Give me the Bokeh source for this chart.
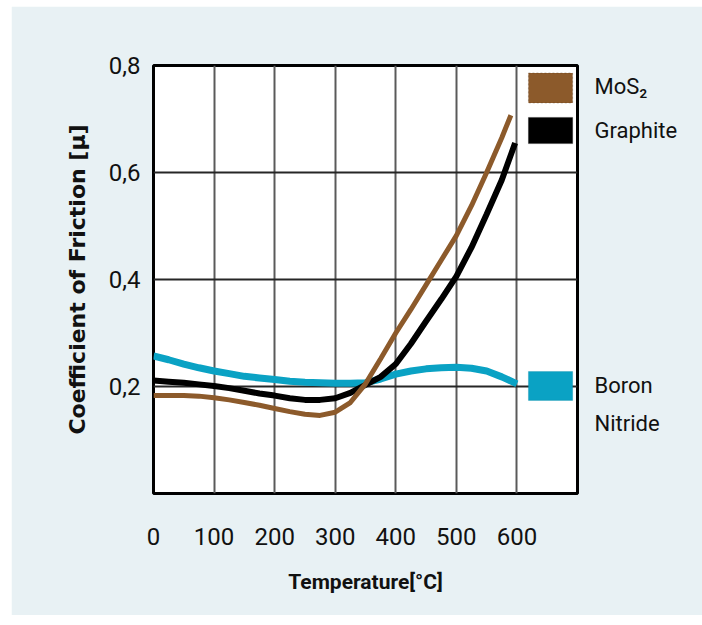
from bokeh.plotting import figure
from bokeh.models import Range1d, FixedTicker, LinearAxis, BoxAnnotation
from bokeh.embed import file_html
from bokeh.resources import INLINE

# ---- data ----
bn_temp = [0, 25, 50, 75, 100, 125, 150, 175, 200, 225, 250, 275, 300, 325, 350,
           375, 400, 425, 450, 475, 500, 525, 550, 575, 600]
bn_cof = [0.257, 0.250, 0.242, 0.235, 0.229, 0.224, 0.219, 0.216, 0.213, 0.210, 0.208,
          0.207, 0.206, 0.206, 0.207, 0.214, 0.223, 0.229, 0.233, 0.235, 0.236, 0.234,
          0.229, 0.218, 0.205]

gr_temp = [0, 25, 50, 75, 100, 125, 150, 175, 200, 225, 250, 275, 300, 325, 350,
           375, 400, 425, 450, 475, 500, 525, 550, 575, 597]
gr_cof = [0.211, 0.209, 0.207, 0.204, 0.201, 0.197, 0.192, 0.187, 0.183, 0.178, 0.175,
          0.175, 0.178, 0.188, 0.203, 0.218, 0.242, 0.280, 0.322, 0.363, 0.406, 0.460,
          0.522, 0.586, 0.655]

mo_temp = [0, 25, 50, 75, 100, 125, 150, 175, 200, 225, 250, 275, 300, 325, 350,
           375, 400, 425, 450, 475, 500, 525, 550, 575, 590]
mo_cof = [0.183, 0.183, 0.183, 0.182, 0.179, 0.175, 0.170, 0.165, 0.159, 0.153, 0.148,
          0.146, 0.152, 0.170, 0.205, 0.252, 0.300, 0.344, 0.390, 0.436, 0.482, 0.538,
          0.600, 0.665, 0.707]

x_ticks = [0, 100, 200, 300, 400, 500, 600]
x_grid = [100, 200, 300, 400, 500, 600]
y_ticks = [0.2, 0.4, 0.6, 0.8]
y_grid = [0.2, 0.4, 0.6]
y_tick_labels = ["0,2", "0,4", "0,6", "0,8"]

# legend texts (shown on a right-hand axis) and their vertical anchors
legend_labels = ["MoS\u2082", "Graphite", "Boron", "Nitride"]
legend_label_y = [0.760, 0.678, 0.202, 0.131]

BROWN = "#8c5a2b"
BLACK = "#000000"
BLUE = "#0aa2c4"
PANEL = "#e8f1f4"
FONT = "Roboto"
TXT = "#111111"

p = figure(frame_width=424, frame_height=428, output_backend="svg",
           toolbar_location=None, x_range=Range1d(0, 700), y_range=Range1d(0, 0.8),
           min_border_left=142, min_border_right=125, min_border_top=59,
           min_border_bottom=122)
p.margin = (6, 0, 0, 11)

p.background_fill_color = "white"
p.border_fill_color = PANEL
p.outline_line_color = "black"
p.outline_line_width = 3

# axes
p.xaxis.ticker = FixedTicker(ticks=x_ticks)
p.yaxis.ticker = FixedTicker(ticks=y_ticks)
p.yaxis.major_label_overrides = {t: s for t, s in zip(y_ticks, y_tick_labels)}
for ax in (p.xaxis[0], p.yaxis[0]):
    ax.axis_line_color = None
    ax.major_tick_line_color = None
    ax.minor_tick_line_color = None
    ax.major_label_text_font = FONT
    ax.major_label_text_font_size = "24px"
    ax.major_label_text_color = TXT
p.xaxis.major_label_standoff = 28
p.yaxis.major_label_standoff = 7

p.xaxis.axis_label = "Temperature[\u00b0C]"
p.xaxis.axis_label_text_font = FONT
p.xaxis.axis_label_text_font_style = "bold"
p.xaxis.axis_label_text_font_size = "21px"
p.xaxis.axis_label_text_color = TXT
p.xaxis.axis_label_standoff = 22

p.yaxis.axis_label = "Coefficient of Friction [\u00b5]"
p.yaxis.axis_label_text_font = "DejaVu Sans"
p.yaxis.axis_label_text_font_style = "bold"
p.yaxis.axis_label_text_font_size = "22px"
p.yaxis.axis_label_text_color = TXT
p.yaxis.axis_label_standoff = 16

# grid
p.xgrid.ticker = FixedTicker(ticks=x_grid)
p.ygrid.ticker = FixedTicker(ticks=y_grid)
p.xgrid.grid_line_color = "#5a5a5a"
p.xgrid.grid_line_width = 2
p.ygrid.grid_line_color = "#262626"
p.ygrid.grid_line_width = 2

# curves
p.line(bn_temp, bn_cof, line_color=BLUE, line_width=7)
p.line(gr_temp, gr_cof, line_color=BLACK, line_width=6)
p.line(mo_temp, mo_cof, line_color=BROWN, line_width=5)

# legend swatches
p.add_layout(BoxAnnotation(left=619, right=692, top=0.786, bottom=0.730,
                           fill_color=BROWN, fill_alpha=1, line_color="#4a2e12",
                           line_dash="2 2", line_width=1, level="annotation"))
p.add_layout(BoxAnnotation(left=619, right=692, top=0.703, bottom=0.654,
                           fill_color=BLACK, fill_alpha=1, line_color=BLACK,
                           line_width=1, level="annotation"))
p.add_layout(BoxAnnotation(left=619, right=692, top=0.228, bottom=0.174,
                           fill_color=BLUE, fill_alpha=1, line_color="#0889a6",
                           line_width=1, level="annotation"))

# legend texts on a right axis
leg_axis = LinearAxis(ticker=FixedTicker(ticks=legend_label_y),
                      major_label_overrides={t: s for t, s in zip(legend_label_y, legend_labels)},
                      axis_line_color=None, major_tick_line_color=None,
                      minor_tick_line_color=None, major_label_standoff=11,
                      major_label_text_font=FONT, major_label_text_font_size="22px",
                      major_label_text_color=TXT)
p.add_layout(leg_axis, "right")

open("out.html", "w").write(file_html(p, INLINE))
